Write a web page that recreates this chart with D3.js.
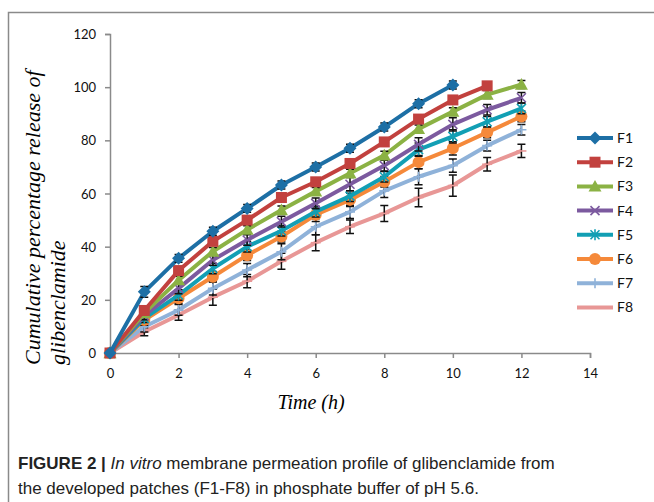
<!DOCTYPE html>
<html lang="en">
<head>
<meta charset="UTF-8">
<title>Glibenclamide permeation</title>
<script src="https://d3js.org/d3.v7.min.js"></script>
<style>
    body { margin: 0; background: #fff; }
    svg { display: block; }
    .tick text { font-family: Lato, "Open Sans", sans-serif; font-size: 13px; fill: #111; }
    .caption { font-family: "Liberation Sans", Arial, sans-serif; font-size: 16px; fill: #222; }
</style>
</head>
<body>
<div id="chart"></div>
<script>
    // data
    const hours = [0, 1, 2, 3, 4, 5, 6, 7, 8, 9, 10, 11, 12]
    const xTicks = [0, 2, 4, 6, 8, 10, 12, 14]
    const yTicks = [0, 20, 40, 60, 80, 100, 120]
    const names = ["F1", "F2", "F3", "F4", "F5", "F6", "F7", "F8"]

    const f1 = [0, 23, 35.6, 45.8, 54.4, 63.2, 70, 77, 85, 93.8, 100.8]
    const f2 = [0, 16, 31, 42, 50, 58.5, 64.4, 71.3, 79.4, 88, 95.2, 100.5]
    const f3 = [0, 15, 27.4, 38.2, 46.4, 53.8, 60.8, 67.6, 74.4, 84.3, 90.8, 97.2, 101]
    const f4 = [0, 14, 24.3, 35, 42.5, 49.4, 56.3, 63.5, 70.5, 78.5, 86, 91.5, 96]
    const f5 = [0, 13, 21.8, 31.8, 40, 46, 53.2, 59, 66.3, 76.5, 81.5, 87, 92]
    const f6 = [0, 12.4, 20.6, 28.7, 36.8, 43.8, 52, 57.6, 64.4, 71.8, 77, 83, 89]
    const f7 = [0, 9.9, 16.2, 24.3, 31.2, 38.1, 47.5, 53.1, 61, 66.3, 70.5, 78, 84]
    const f8 = [0, 8, 14.3, 21, 27, 34.5, 41.5, 47.5, 52.5, 58.5, 63, 71, 76]

    // standard deviations (error bars)
    const f1Err = [0, 2, 1.5, 1.5, 1.5, 1.5, 1.5, 1.5, 1.5, 1.5, 1.5]
    const f2Err = [0, 1.5, 1.5, 1.5, 1.5, 1.5, 1.5, 1.5, 1.5, 1.5, 1.5, 1.5]
    const f3Err = [0, 1.5, 1.5, 1.5, 1.5, 1.5, 1.5, 1.5, 1.5, 1.5, 1.5, 1.5, 1.5]
    const f4Err = [0, 1.5, 2, 2, 2, 2, 2, 2.5, 2, 2.5, 2.5, 2, 2]
    const f5Err = [0, 1.5, 2, 2, 2, 2, 2, 2, 2, 2.5, 2.5, 2, 2]
    const f6Err = [0, 2, 2, 2, 2, 2, 2.5, 2.5, 2, 2.5, 2.5, 2, 2]
    const f7Err = [0, 2, 2, 2.5, 2.5, 3, 3, 2.5, 2.5, 3, 2.5, 2, 2]
    const f8Err = [0, 1.5, 2, 3, 2.5, 3, 3, 2.5, 3, 3.5, 4, 2.5, 2.5]

    const values = [f1, f2, f3, f4, f5, f6, f7, f8]
    const errors = [f1Err, f2Err, f3Err, f4Err, f5Err, f6Err, f7Err, f8Err]
    const colors = ["#1d6fa5", "#c2413e", "#8bb244", "#7c5a9f", "#129fb4", "#f5893a", "#8fb2d9", "#e89796"]
    const markers = ["diamond", "square", "triangle", "x", "star", "circle", "plus", "dash"]

    const W = 654, H = 502
    const margin = {left: 110, top: 34, right: 64, bottom: 149}

    const svg = d3.select("#chart").append("svg")
        .attr("width", W)
        .attr("height", H)

    // frame of the figure
    svg.append("path")
        .attr("d", "M8.5," + H + "V12.5H" + W)
        .attr("fill", "none")
        .attr("stroke", "#8a8a8a")
        .attr("stroke-width", 1.5)

    const x = d3.scaleLinear().domain([0, 14]).range([margin.left, W - margin.right])
    const y = d3.scaleLinear().domain([0, 120]).range([H - margin.bottom, margin.top])

    const xAxis = svg.append("g")
        .attr("transform", "translate(0," + y(0) + ")")
        .call(d3.axisBottom(x).tickValues(xTicks).tickSize(5).tickPadding(11))
    const yAxis = svg.append("g")
        .attr("transform", "translate(" + x(0) + ",0)")
        .call(d3.axisLeft(y).tickValues(yTicks).tickSize(5).tickPadding(9))
    for (const ax of [xAxis, yAxis]) {
        ax.select(".domain").attr("stroke", "#8a8a8a").attr("stroke-width", 1.5)
        ax.selectAll(".tick line").attr("stroke", "#8a8a8a").attr("stroke-width", 1.5)
    }
    yAxis.selectAll(".tick text").attr("dy", "0.35em")

    // axis titles
    svg.append("text")
        .attr("x", 311)
        .attr("y", 409)
        .attr("text-anchor", "middle")
        .style("font-family", "'Liberation Serif', 'DejaVu Serif', serif")
        .style("font-style", "italic")
        .style("font-size", "20px")
        .text("Time (h)")

    const yTitle = svg.append("text")
        .attr("transform", "translate(40,365) rotate(-90)")
        .style("font-family", "'Liberation Serif', 'DejaVu Serif', serif")
        .style("font-style", "italic")
        .style("font-size", "22px")
    yTitle.append("tspan").attr("x", 0).attr("y", 0).text("Cumulative percentage release of")
    yTitle.append("tspan").attr("x", 0).attr("y", 25).text("glibenclamide")

    function markerPath(type, cx, cy) {
        const p = d3.path()
        if (type === "diamond") {
            const r = 6.5
            p.moveTo(cx, cy - r); p.lineTo(cx + r, cy); p.lineTo(cx, cy + r); p.lineTo(cx - r, cy); p.closePath()
        } else if (type === "square") {
            const r = 5.5
            p.rect(cx - r, cy - r, 2 * r, 2 * r)
        } else if (type === "triangle") {
            const r = 6.5
            p.moveTo(cx, cy - r); p.lineTo(cx + r, cy + r * 0.8); p.lineTo(cx - r, cy + r * 0.8); p.closePath()
        } else if (type === "circle") {
            p.arc(cx, cy, 6, 0, 2 * Math.PI)
        } else if (type === "x") {
            const r = 4.5
            p.moveTo(cx - r, cy - r); p.lineTo(cx + r, cy + r)
            p.moveTo(cx - r, cy + r); p.lineTo(cx + r, cy - r)
        } else if (type === "star") {
            const r = 4.5
            p.moveTo(cx - r, cy - r); p.lineTo(cx + r, cy + r)
            p.moveTo(cx - r, cy + r); p.lineTo(cx + r, cy - r)
            p.moveTo(cx, cy - r - 1); p.lineTo(cx, cy + r + 1)
        } else if (type === "plus") {
            const r = 5
            p.moveTo(cx, cy - r); p.lineTo(cx, cy + r)
            p.moveTo(cx - r, cy); p.lineTo(cx + r, cy)
        } else {
            const r = 5
            p.moveTo(cx - r, cy); p.lineTo(cx + r, cy)
        }
        return p.toString()
    }
    const filled = t => ["diamond", "square", "triangle", "circle"].includes(t)

    const line = d3.line()
        .x((d, i) => x(hours[i]))
        .y(d => y(d))

    const plot = svg.append("g")

    // draw from F8 up to F1 so the upper series sit on top
    for (let s = names.length - 1; s >= 0; s--) {
        const g = plot.append("g")
        g.append("path")
            .datum(values[s])
            .attr("d", line)
            .attr("fill", "none")
            .attr("stroke", colors[s])
            .attr("stroke-width", 4)
            .attr("stroke-linejoin", "round")

        // error bars
        g.selectAll(".err").data(values[s]).enter().append("path")
            .attr("class", "err")
            .attr("d", (d, i) => {
                const e = errors[s][i]
                if (!e) return null
                const cx = x(hours[i]), lo = y(d - e), hi = y(d + e)
                return "M" + cx + "," + lo + "V" + hi +
                    "M" + (cx - 4) + "," + lo + "H" + (cx + 4) +
                    "M" + (cx - 4) + "," + hi + "H" + (cx + 4)
            })
            .attr("fill", "none")
            .attr("stroke", "#111")
            .attr("stroke-width", 1.5)

        g.selectAll(".mk").data(values[s]).enter().append("path")
            .attr("class", "mk")
            .attr("d", (d, i) => markerPath(markers[s], x(hours[i]), y(d)))
            .attr("fill", filled(markers[s]) ? colors[s] : "none")
            .attr("stroke", colors[s])
            .attr("stroke-width", filled(markers[s]) ? 0 : 1.6)
    }

    // legend
    const legend = svg.append("g")
    names.forEach((n, i) => {
        const ly = 138 + i * 24.2
        legend.append("line")
            .attr("x1", 577).attr("x2", 613)
            .attr("y1", ly).attr("y2", ly)
            .attr("stroke", colors[i])
            .attr("stroke-width", 4)
        legend.append("path")
            .attr("d", markerPath(markers[i], 595, ly))
            .attr("fill", filled(markers[i]) ? colors[i] : "none")
            .attr("stroke", colors[i])
            .attr("stroke-width", filled(markers[i]) ? 0 : 1.6)
        legend.append("text")
            .attr("x", 617).attr("y", ly)
            .attr("dy", "0.36em")
            .style("font-family", "Lato, 'Open Sans', sans-serif")
            .style("font-size", "14px")
            .style("fill", "#111")
            .text(n)
    })

    // caption, font size fitted to the printed line widths
    const cap1 = svg.append("text").attr("class", "caption").attr("x", 18).attr("y", 469)
    cap1.append("tspan").style("font-weight", "bold").text("FIGURE 2 | ")
    cap1.append("tspan").style("font-style", "italic").text("In vitro")
    cap1.append("tspan").text(" membrane permeation profile of glibenclamide from")
    const cap2 = svg.append("text").attr("class", "caption").attr("x", 18).attr("y", 494)
        .text("the developed patches (F1-F8) in phosphate buffer of pH 5.6.")
    const w1 = cap1.node().getComputedTextLength()
    const fs = Math.min(17, 16 * 544 / w1)
    cap1.style("font-size", fs + "px")
    cap2.style("font-size", fs + "px")
</script>
</body>
</html>
